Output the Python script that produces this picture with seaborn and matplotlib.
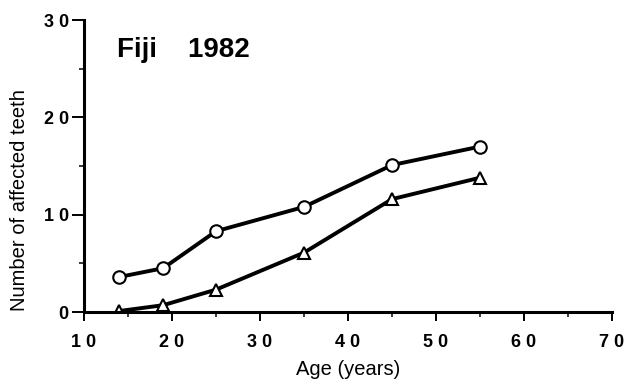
import matplotlib
matplotlib.use("Agg")
import matplotlib.pyplot as plt
import seaborn as sns
import pandas as pd
from matplotlib.ticker import MultipleLocator, FixedLocator

ages = [14, 19, 25, 35, 45, 55]
circle_values = [3.6, 4.5, 8.3, 10.8, 15.1, 17.0]
triangle_values = [0.1, 0.7, 2.3, 6.1, 11.6, 13.8]
x_ticks = [10, 20, 30, 40, 50, 60, 70]
x_tick_labels = ["1 0", "2 0", "3 0", "4 0", "5 0", "6 0", "7 0"]
y_ticks = [0, 10, 20, 30]
y_tick_labels = ["0", "1 0", "2 0", "3 0"]

sns.set_theme(style="ticks")
plt.rcParams['font.family'] = ['Liberation Sans', 'DejaVu Sans']

df = pd.DataFrame({
    "age": ages + ages,
    "value": circle_values + triangle_values,
    "series": ["circle"] * len(ages) + ["triangle"] * len(ages),
})

fig = plt.figure(figsize=(6.33, 3.86), dpi=100)
ax = fig.add_axes([0.1327, 0.1917, 0.8341, 0.7563])

sns.lineplot(data=df, x="age", y="value", hue="series", style="series",
             palette={"circle": "black", "triangle": "black"},
             markers={"circle": "o", "triangle": "^"}, dashes=False,
             markersize=9, markerfacecolor="white", markeredgecolor="black",
             markeredgewidth=1.5, linewidth=2.8, legend=False, ax=ax)

ax.set_xlim(10, 70)
ax.set_ylim(0, 30)
ax.xaxis.set_major_locator(FixedLocator(x_ticks))
ax.set_xticklabels(x_tick_labels)
ax.yaxis.set_major_locator(FixedLocator(y_ticks))
ax.set_yticklabels(y_tick_labels)
ax.xaxis.set_minor_locator(MultipleLocator(5))
ax.yaxis.set_minor_locator(MultipleLocator(5))
ax.tick_params(axis="x", which="major", length=6.5, width=1.4, color="black",
               labelsize=13, pad=9.5)
ax.tick_params(axis="y", which="major", length=9, width=1.4, color="black",
               labelsize=13, pad=2)
ax.tick_params(which="minor", length=3.5, width=1.1, color="black")
for lab in ax.get_xticklabels() + ax.get_yticklabels():
    lab.set_fontweight("bold")
    lab.set_color("black")

for side in ["left", "bottom"]:
    ax.spines[side].set_linewidth(2.2)
    ax.spines[side].set_color("black")
for side in ["top", "right"]:
    ax.spines[side].set_visible(False)

ax.set_xlabel("Age (years)", fontsize=14.5, color="black")
ax.set_ylabel("Number of affected teeth", fontsize=14.5, color="black")
ax.xaxis.set_label_coords(0.5, -0.165)
ax.yaxis.set_label_coords(-0.105, 0.384)

ax.text(0.0625, 0.897, "Fiji    1982", transform=ax.transAxes, fontsize=20,
        fontweight="bold", color="black", ha="left", va="center")

fig.savefig("out.png", dpi=100)
